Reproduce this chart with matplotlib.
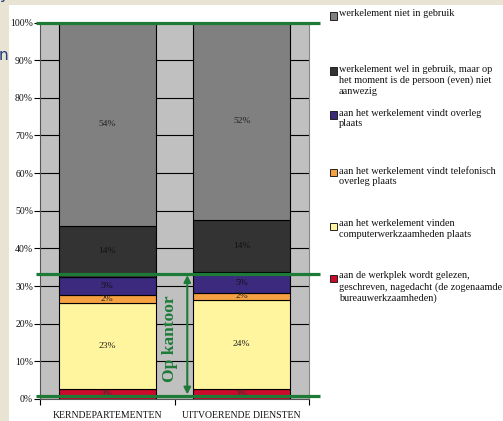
import numpy as np
import matplotlib.pyplot as plt
from matplotlib.patches import Rectangle

# Data (bottom to top of each stacked bar)
categories = ['KERNDEPARTEMENTEN', 'UITVOERENDE DIENSTEN']
series_names = [
    'aan de werkplek wordt gelezen,\ngeschreven, nagedacht (de zogenaamde\nbureauwerkzaamheden)',
    'aan het werkelement vinden\ncomputerwerkzaamheden plaats',
    'aan het werkelement vindt telefonisch\noverleg plaats',
    'aan het werkelement vindt overleg\nplaats',
    'werkelement wel in gebruik, maar op\nhet moment is de persoon (even) niet\naanwezig',
    'werkelement niet in gebruik',
]
bureau = [2.7, 2.6]
computer = [22.9, 23.8]
telefoon = [2.1, 1.8]
overleg = [4.7, 5.4]
afwezig = [13.6, 14.0]
niet_gebruik = [54.0, 52.4]
series_values = [bureau, computer, telefoon, overleg, afwezig, niet_gebruik]
series_colors = ['#cc0a2c', '#fff59e', '#f5a041', '#3c2a7e', '#333333', '#808080']
label_colors = ['#333333', '#222222', '#222222', '#111111', '#111111', '#222222']

kantoor_level = 33.3
green = '#1e7b37'

fig = plt.figure(figsize=(5.03, 4.21), dpi=100)
fig.patch.set_facecolor('#e8e3d3')
fig.patches.append(Rectangle((9 / 503, 0), 1, (421 - 5) / 421, transform=fig.transFigure,
                             facecolor='white', edgecolor='none', zorder=-5))

ax = fig.add_axes([40 / 503, 22 / 421, 269 / 503, 376.5 / 421])
ax.set_facecolor('#c0c0c0')

x = np.arange(len(categories))
bottom = np.zeros(len(categories))
for vals, col, tcol in zip(series_values, series_colors, label_colors):
    vals = np.array(vals)
    ax.bar(x, vals, width=0.72, bottom=bottom, color=col, edgecolor='black',
           linewidth=0.8, zorder=3)
    for xi, b, v in zip(x, bottom, vals):
        ax.text(xi, b + v / 2, f'{round(v)}%', ha='center', va='center',
                fontsize=6.8, family='Liberation Serif', color=tcol, zorder=4)
    bottom += vals

ax.set_xlim(-0.5, 1.5)
ax.set_ylim(0, 100)
ax.set_yticks(np.arange(0, 101, 10))
ax.set_yticklabels([f'{t}%' for t in range(0, 101, 10)])
ax.set_xticks([-0.5, 0.5, 1.5])
ax.set_xticklabels([])
ax.set_xticks(x, minor=True)
ax.set_xticklabels(categories, minor=True)
ax.tick_params(axis='x', which='minor', length=0, pad=9)
ax.tick_params(axis='x', which='major', length=4, direction='out', width=0.8)
ax.tick_params(axis='y', length=4, direction='out', width=0.8, pad=1)
for lab in ax.get_xticklabels(minor=True) + ax.get_yticklabels():
    lab.set_fontfamily('Liberation Serif')
    lab.set_fontsize(7)
    lab.set_color('#111111')
ax.yaxis.grid(True, color='black', linewidth=0.8, zorder=1)
ax.set_axisbelow(True)
ax.spines['top'].set_visible(False)
ax.spines['right'].set_color('#888888')
ax.spines['left'].set_color('#555555')
ax.spines['bottom'].set_color('#555555')

# green markers
for yv in [100, kantoor_level, 0.8]:
    ax.plot([-0.53, 1.58], [yv, yv], color=green, linewidth=2.3, clip_on=False,
            zorder=6, solid_capstyle='butt')
ax.annotate('', xy=(0.595, 1.2), xytext=(0.595, kantoor_level - 0.4),
            arrowprops=dict(arrowstyle='<|-|>', color=green, lw=1.5,
                            mutation_scale=10, shrinkA=0, shrinkB=0), zorder=6)
ax.text(0.47, 16, 'Op kantoor', rotation=90, ha='center', va='center',
        fontsize=12.5, fontweight='bold', family='Liberation Serif', color=green, zorder=6)

# legend, drawn by hand so that the entries sit where the original has them
legend_y = [16, 71, 115, 173, 226, 278]
for name, col, ypx in zip(series_names[::-1], series_colors[::-1], legend_y):
    fig.patches.append(Rectangle((329.5 / 503, 1 - (ypx + 3.5) / 421), 7 / 503, 7 / 421,
                                 transform=fig.transFigure, facecolor=col,
                                 edgecolor='#222222', linewidth=0.7))
    fig.text(339 / 503, 1 - (ypx - 6.5) / 421, name, ha='left', va='top',
             fontsize=7.4, family='Liberation Serif', color='#111111', linespacing=1.25)

# clipped fragments of surrounding slide text
fig.text(-0.003, 1 - 55 / 421, 'n', fontsize=11, color='#1f3a7a', va='center', ha='left')
fig.text(0.0, 1.012, 'y', fontsize=11, color='#1f3a7a', va='center', ha='left')

fig.savefig('out.png', dpi=100)
